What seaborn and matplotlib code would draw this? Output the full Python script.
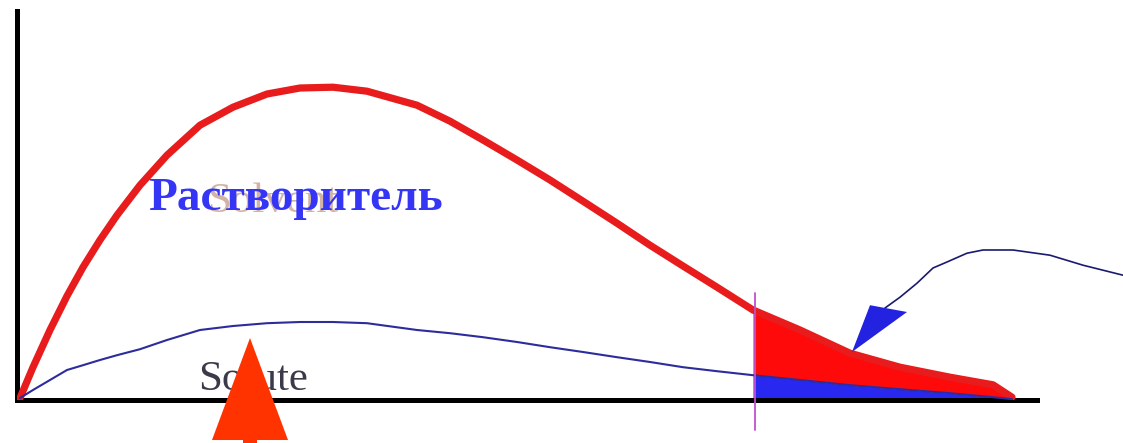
import numpy as np
import seaborn as sns
import matplotlib.pyplot as plt
from matplotlib.patches import FancyArrow, Polygon

sns.set_theme(style="white")
plt.rcParams['font.family'] = ['Liberation Serif', 'DejaVu Serif']

# time axis (arbitrary units) and the two elution curves
time = [0.3, 1.6, 3.3, 5.0, 6.6, 8.3, 10.0, 12.3, 15.0, 18.3, 21.6, 25.0, 28.3,
        31.6, 35.0, 40.0, 43.3, 46.6, 50.0, 53.3, 56.6, 60.0, 63.3, 66.6, 70.0,
        73.6, 78.3, 83.3, 88.3, 93.3, 97.6, 99.5]
solvent = [0.5, 8.2, 17.5, 26.0, 33.2, 40.0, 46.2, 53.7, 61.2, 68.7, 73.2, 76.5, 78.0,
           78.2, 77.2, 73.7, 69.7, 65.0, 60.0, 55.0, 49.7, 44.2, 38.7, 33.5, 28.2,
           22.5, 17.5, 11.7, 8.2, 5.7, 3.8, 0.7]
solute = [0.5, 2.5, 5.0, 7.5, 8.7, 10.0, 11.2, 12.7, 15.0, 17.5, 18.5, 19.2, 19.5,
          19.5, 19.2, 17.5, 16.7, 15.7, 14.5, 13.2, 12.0, 10.7, 9.5, 8.2, 7.2,
          6.2, 5.0, 3.7, 2.7, 1.7, 0.7, 0.2]
cut_time = 73.6

# annotation arrow path (pointing to the shaded tail)
hook_x = [110.6, 106.6, 103.3, 99.6, 96.6, 95.0, 93.0, 91.6, 90.0, 88.3, 86.8]
hook_y = [31.2, 33.7, 36.2, 37.5, 37.5, 36.7, 34.5, 33.0, 29.2, 25.7, 23.0]
hook_head = [(83.5, 12.0), (85.3, 23.7), (89.0, 22.0)]
up_arrow_x = 23.3

fig = plt.figure(figsize=(11.23, 4.43), dpi=100)
ax = fig.add_axes([17 / 1123, 43 / 443, 1020 / 1123, 389 / 443])

t = np.array(time)
red = np.array(solvent)
blue = np.array(solute)
tail = t >= cut_time

# fills of the tail
ax.fill_between(t[tail], blue[tail], red[tail], color='#ff0a0a', lw=0, zorder=2)
ax.fill_between(t[tail], 0, blue[tail], color='#2828f0', lw=0, zorder=2)

sns.lineplot(x=time, y=solvent, ax=ax, color='#e81c1c', linewidth=5.2, zorder=3)
sns.lineplot(x=time, y=solute, ax=ax, color='#2c2c9c', linewidth=1.5, zorder=3)

# cut line
ax.plot([cut_time + 0.2, cut_time + 0.2], [-7.5, 26.7], color='#c050d0', lw=1.3,
        clip_on=False, zorder=4)

# texts
ax.text(19.0, 47.0, 'Solvent', fontsize=31, color='#c8a090', alpha=0.8, zorder=1)
ax.text(13.1, 47.5, 'Растворитель', fontsize=34, fontweight='bold', color='#3535f5',
        zorder=5)
ax.text(18.1, 2.5, 'Solute', fontsize=31, color='#3a3a4a', zorder=1)

# arrows
ax.add_patch(FancyArrow(up_arrow_x, -16, 0, 31.5, width=1.4, head_width=7.6,
                        head_length=25.5, length_includes_head=True,
                        color='#ff3300', lw=0, clip_on=False, zorder=6))
ax.plot(hook_x, hook_y, color='#1a1a70', lw=1.2, clip_on=False, zorder=4)
ax.add_patch(Polygon(hook_head, closed=True, color='#2222e0', lw=0,
                     clip_on=False, zorder=4))

ax.set_xlim(0, 102)
ax.set_ylim(0, 97.25)
ax.set_xticks([])
ax.set_yticks([])
ax.set_xlabel('')
ax.set_ylabel('')
for side in ['top', 'right']:
    ax.spines[side].set_visible(False)
for side in ['left', 'bottom']:
    ax.spines[side].set_color('black')
    ax.spines[side].set_linewidth(3.6)

plt.savefig('out.png', dpi=100)
